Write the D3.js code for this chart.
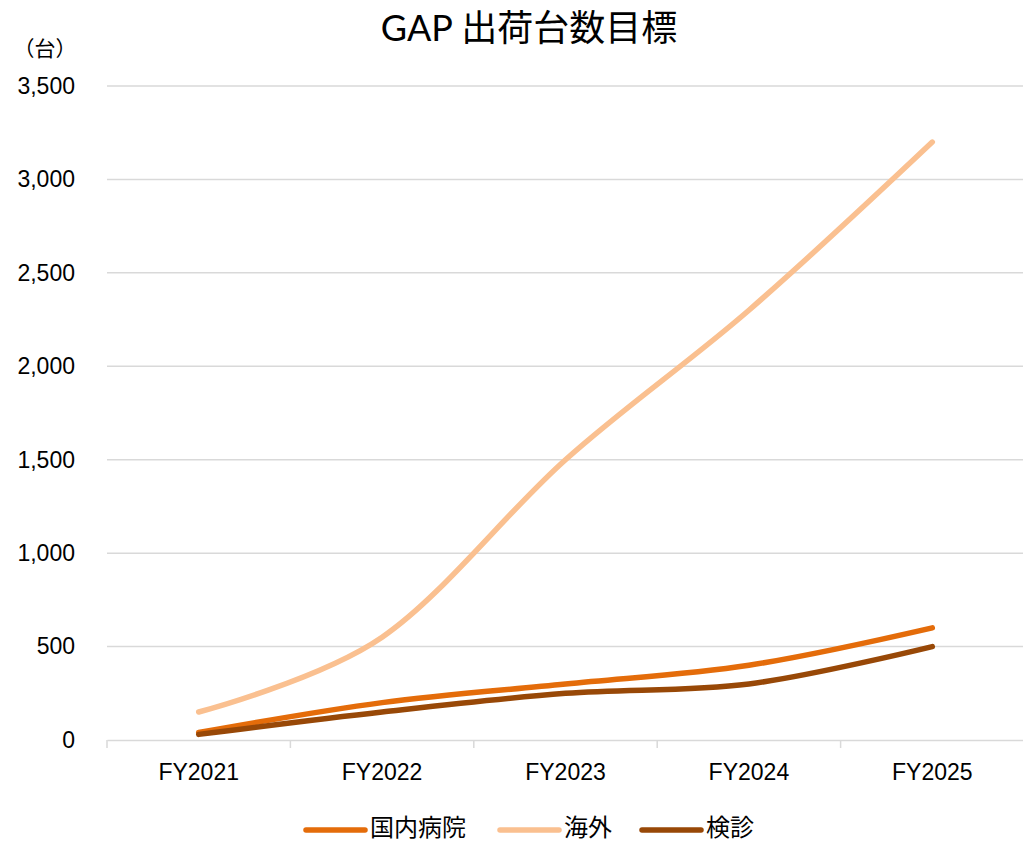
<!DOCTYPE html>
<html>
<head>
<meta charset="utf-8">
<script src="https://cdn.jsdelivr.net/npm/d3@7"></script>
<style>
  body { margin: 0; background: #fff; }
  svg { display: block; font-family: Lato, "Noto Sans CJK JP", sans-serif; }
  .grid line { stroke: #d9d9d9; stroke-width: 1.5; }
  .axis path, .axis line { stroke: #d9d9d9; stroke-width: 1.5; }
  .axis text { fill: #000; }
</style>
</head>
<body>
<svg id="chart" width="1023" height="842"></svg>
<script>
// chart data
var years = ["FY2021", "FY2022", "FY2023", "FY2024", "FY2025"];
var domestic = [40, 200, 300, 400, 600];     // 国内病院
var overseas = [150, 550, 1500, 2300, 3200]; // 海外
var checkup = [30, 150, 250, 300, 500];      // 検診
var yTicks = [0, 500, 1000, 1500, 2000, 2500, 3000, 3500];

var seriesNames = ["国内病院", "海外", "検診"];
var seriesColors = ["#e46c0a", "#fac090", "#984807"];

drawChart();

function drawChart() {
    var svg = d3.select("#chart");
    var plotL = 107, plotR = 1024, plotT = 86, plotB = 740;

    var x = d3.scaleBand().domain(years).range([plotL, plotR]);
    var y = d3.scaleLinear().domain([0, 3500]).range([plotB, plotT]);

    // title
    svg.append("text")
        .attr("x", 529).attr("y", 41)
        .attr("text-anchor", "middle")
        .style("font-size", "36px")
        .text("GAP 出荷台数目標");

    svg.append("text")
        .attr("x", 45).attr("y", 56)
        .attr("text-anchor", "middle")
        .style("font-size", "21px")
        .style("font-family", "'Noto Sans CJK JP'")
        .text("（台）");

    // gridlines
    svg.append("g").attr("class", "grid")
        .selectAll("line")
        .data(yTicks.filter(function(d) { return d > 0; }))
        .enter().append("line")
        .attr("x1", plotL).attr("x2", plotR)
        .attr("y1", function(d) { return y(d); })
        .attr("y2", function(d) { return y(d); });

    // y axis (labels only)
    var yAxis = d3.axisLeft(y)
        .tickValues(yTicks)
        .tickFormat(d3.format(","))
        .tickSize(0)
        .tickPadding(32);
    var yg = svg.append("g").attr("class", "axis")
        .attr("transform", "translate(" + plotL + ",0)")
        .call(yAxis);
    yg.select(".domain").remove();
    yg.selectAll("text").style("font-size", "23px");

    // x axis
    var xAxis = d3.axisBottom(x).tickSize(0).tickPadding(24);
    var xg = svg.append("g").attr("class", "axis")
        .attr("transform", "translate(0," + plotB + ")")
        .call(xAxis);
    xg.selectAll("text").style("font-size", "23px");
    // tick marks at band edges
    var edges = years.map(function(d) { return x(d); }).concat([x.range()[1]]);
    xg.selectAll(".edge")
        .data(edges)
        .enter().append("line")
        .attr("class", "edge")
        .attr("x1", function(d) { return d; })
        .attr("x2", function(d) { return d; })
        .attr("y1", 0).attr("y2", 8);

    // lines
    var line = d3.line()
        .x(function(d, i) { return x(years[i]) + x.bandwidth() / 2; })
        .y(function(d) { return y(d); })
        .curve(d3.curveCatmullRom.alpha(0));

    var allSeries = [domestic, overseas, checkup];
    // draw order: 海外 behind, then 国内病院, then 検診
    [1, 0, 2].forEach(function(k) {
        svg.append("path")
            .datum(allSeries[k])
            .attr("d", line)
            .attr("fill", "none")
            .attr("stroke", seriesColors[k])
            .attr("stroke-width", 5.5)
            .attr("stroke-linecap", "round");
    });

    // legend
    var legendX = [306, 500, 642];
    var lg = svg.append("g").attr("class", "legend");
    seriesNames.forEach(function(name, i) {
        lg.append("line")
            .attr("x1", legendX[i]).attr("x2", legendX[i] + 59)
            .attr("y1", 830).attr("y2", 830)
            .attr("stroke", seriesColors[i])
            .attr("stroke-width", 5.5)
            .attr("stroke-linecap", "round");
        lg.append("text")
            .attr("x", legendX[i] + 64).attr("y", 836)
            .style("font-size", "24px")
            .style("font-family", "'Noto Sans CJK JP'")
            .text(name);
    });
}
</script>
</body>
</html>
